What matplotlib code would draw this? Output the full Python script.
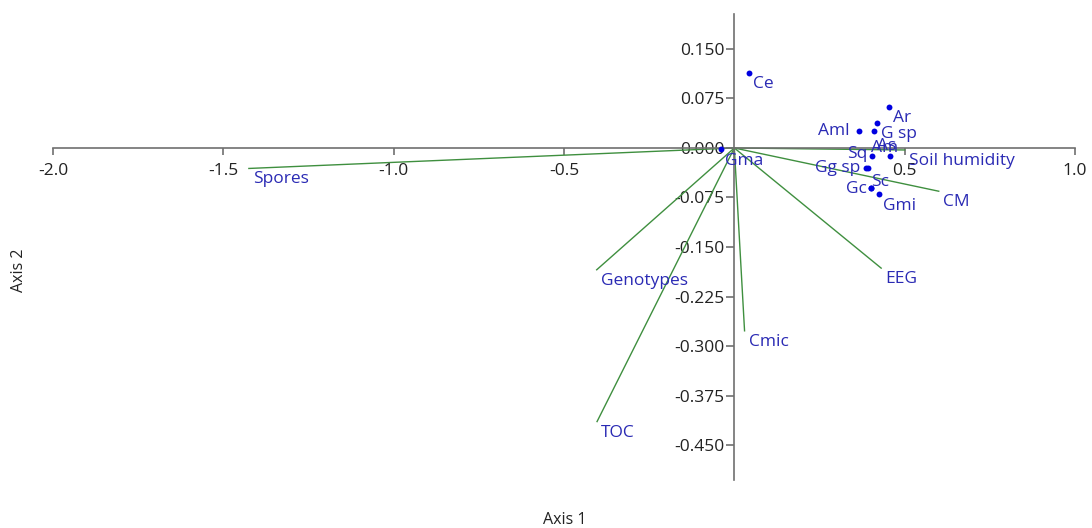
import matplotlib
matplotlib.use("Agg")
import matplotlib.pyplot as plt

# ---- data ----
sample_names = ["Ce", "Ar", "G sp", "Aml", "As", "Am", "Sq", "Gg sp", "", "Sc", "Gc", "Gmi", "Gma"]
sample_x = [0.044, 0.453, 0.419, 0.366, 0.410, 0.458, 0.405, 0.386, 0.393, 0.402, 0.402, 0.424, -0.040]
sample_y = [0.114, 0.0615, 0.038, 0.0255, 0.025, -0.0125, -0.012, -0.031, -0.031, -0.061, -0.061, -0.0695, -0.002]

var_names = ["Spores", "Genotypes", "TOC", "Cmic", "EEG", "CM", "Soil humidity"]
var_x = [-1.425, -0.404, -0.403, 0.030, 0.431, 0.600, 0.500]
var_y = [-0.031, -0.1845, -0.4145, -0.277, -0.182, -0.0655, -0.003]

x_ticks = [-2.0, -1.5, -1.0, -0.5, 0.0, 0.5, 1.0]
x_ticklabels = ["-2.0", "-1.5", "-1.0", "-0.5", "", "0.5", "1.0"]
y_ticks = [0.150, 0.075, 0.000, -0.075, -0.150, -0.225, -0.300, -0.375, -0.450]
y_ticklabels = ["0.150", "0.075", "0.000", "-0.075", "-0.150", "-0.225", "-0.300", "-0.375", "-0.450"]

# label placement styles (pixel offsets, alignment)
sample_label_style = {
    "Ce": (4, -11, "left"), "Ar": (4, -11, "left"), "G sp": (4, -11, "left"),
    "Aml": (-9, 0, "right"), "As": (3, -15, "left"), "Am": (8, 8, "right"),
    "Sq": (-5, 2, "right"), "Gg sp": (-6, 0, "right"), "Sc": (0, 6, "left"),
    "Gc": (-4, -1, "right"), "Gmi": (4, -12, "left"), "Gma": (4, -12, "left"),
}

plt.rcParams['font.family'] = ['Open Sans', 'DejaVu Sans']
W, H = 1092, 528
fig = plt.figure(figsize=(W / 100, H / 100), dpi=100)
ax = fig.add_axes([53 / W, 1 - 480 / H, (1075 - 53) / W, (480 - 14) / H])
ax.set_xlim(-2.0, 1.0)
ax.set_ylim(-0.503, 0.203)

for s in ["top", "right"]:
    ax.spines[s].set_visible(False)
for s in ["left", "bottom"]:
    ax.spines[s].set_position(("data", 0))
    ax.spines[s].set_color("#707070")
    ax.spines[s].set_linewidth(1.2)

ax.set_xticks(x_ticks)
ax.set_xticklabels(x_ticklabels)
ax.set_yticks(y_ticks)
ax.set_yticklabels(y_ticklabels)
ax.tick_params(axis="both", colors="#707070", labelcolor="#222222", labelsize=12.5,
               width=1.2, direction="out")
ax.tick_params(axis="x", length=5, pad=6)
ax.tick_params(axis="y", length=6, pad=1)

text_color = "#2a2ab4"
line_color = "#3f8f3f"

for name, vx, vy in zip(var_names, var_x, var_y):
    ax.plot([0, vx], [0, vy], color=line_color, lw=1.0, zorder=2)
    ax.annotate(name, (vx, vy), xytext=(4, -11), textcoords="offset pixels",
                ha="left", va="center", color=text_color, fontsize=12.5, zorder=4)

ax.scatter(sample_x, sample_y, s=18, color="#0000e0", zorder=3, linewidths=0)
for name, sx, sy in zip(sample_names, sample_x, sample_y):
    if not name:
        continue
    dx, dy, ha = sample_label_style[name]
    ax.annotate(name, (sx, sy), xytext=(dx, dy), textcoords="offset pixels",
                ha=ha, va="center", color=text_color, fontsize=12.5, zorder=4)

fig.text(565 / W, 1 - 520 / H, "Axis 1", ha="center", va="center", fontsize=11.5, color="#222222")
fig.text(19 / W, 1 - 270 / H, "Axis 2", ha="center", va="center", rotation=90, fontsize=11.5, color="#222222")

fig.savefig("out.png", dpi=100)
